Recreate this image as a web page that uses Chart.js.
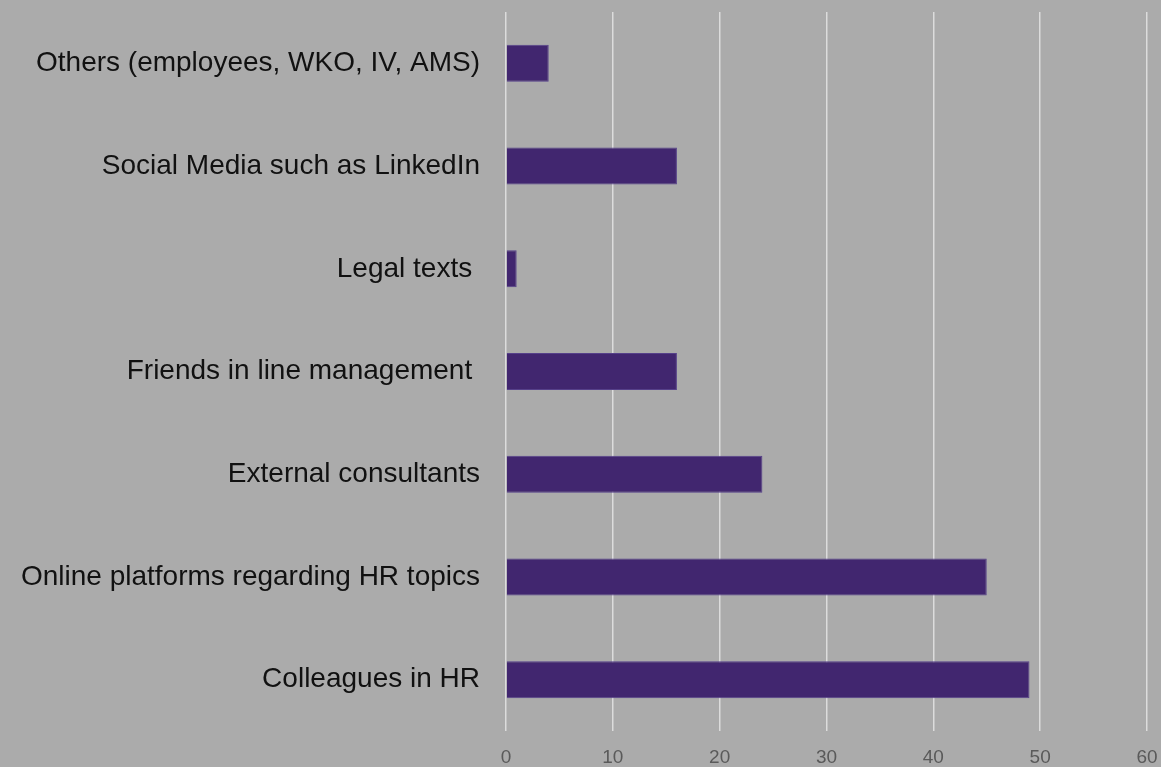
<!DOCTYPE html>
<html>
<head>
<meta charset="utf-8">
<script src="https://cdn.jsdelivr.net/npm/chart.js@4"></script>
<style>
  html, body { margin: 0; padding: 0; background: #ababab; }
  #c { display: block; background: #ababab; }
</style>
</head>
<body>
<canvas id="c" width="1161" height="767"></canvas>
<script>
const categories = [
    'Others (employees, WKO, IV, AMS)',
    'Social Media such as LinkedIn',
    'Legal texts ',
    'Friends in line management ',
    'External consultants',
    'Online platforms regarding HR topics',
    'Colleagues in HR'
];
const counts = [4, 16, 1, 16, 24, 45, 49];
const xTicks = [0, 10, 20, 30, 40, 50, 60];

new Chart(document.getElementById('c'), {
    type: 'bar',
    data: {
        labels: categories,
        datasets: [{
            data: counts,
            backgroundColor: '#41266f',
            borderColor: '#56408a',
            borderWidth: 1,
            barPercentage: 0.36,
            categoryPercentage: 1
        }]
    },
    options: {
        indexAxis: 'y',
        responsive: false,
        animation: false,
        layout: { padding: { top: 12, right: 14, left: 0, bottom: 0 } },
        plugins: { legend: { display: false }, tooltip: { enabled: false } },
        scales: {
            x: {
                min: xTicks[0],
                max: xTicks[xTicks.length - 1],
                afterBuildTicks: s => { s.ticks = xTicks.map(v => ({ value: v })); },
                // keep the plot area where the original has it
                afterFit: s => { s.height = 36; s.paddingLeft = 0; s.paddingRight = 0; },
                grid: { color: '#dcdcdc', lineWidth: 1.5, drawTicks: false },
                border: { display: false },
                ticks: {
                    padding: 15,
                    color: '#5a5a5a',
                    font: { family: 'Liberation Sans', size: 19 }
                }
            },
            y: {
                afterFit: s => { s.width = 506; s.paddingTop = 0; s.paddingBottom = 0; },
                grid: { display: false, drawTicks: false },
                border: { display: false },
                ticks: {
                    padding: 26,
                    color: '#111111',
                    font: { family: 'Liberation Sans', size: 28 }
                }
            }
        }
    }
});
</script>
</body>
</html>
